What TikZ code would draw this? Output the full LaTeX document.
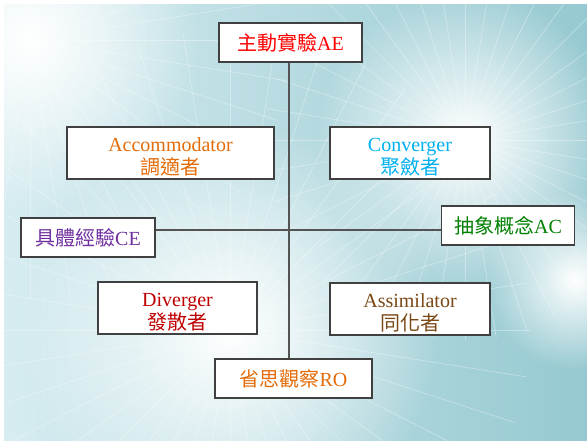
\documentclass[tikz,border=0pt]{standalone}
\usepackage{fontspec}
\setmainfont{Liberation Serif}
\newfontfamily\cjk{Noto Sans CJK TC}
\usepackage{xcolor}
\usepackage{tikz}
\usetikzlibrary{fadings}

\definecolor{bglight}{RGB}{214,236,240}
\definecolor{bgteal}{RGB}{150,201,209}
\definecolor{aered}{RGB}{255,0,0}
\definecolor{acorange}{RGB}{228,108,10}
\definecolor{cvblue}{RGB}{0,176,240}
\definecolor{cepurple}{RGB}{112,48,160}
\definecolor{acgreen}{RGB}{0,128,0}
\definecolor{dvred}{RGB}{192,0,0}
\definecolor{asbrown}{RGB}{122,72,20}
\definecolor{boxline}{RGB}{64,64,64}

% pushes a two-line label a little down in its box
\newcommand{\padtop}{\rule{0pt}{21pt}}

\tikzfading[name=glow, inner color=transparent!0, outer color=transparent!100]

\tikzset{
  stylebox/.style={draw=boxline, line width=1.2pt, fill=white, inner sep=0pt,
    align=center, font=\fontsize{20}{23}\selectfont},
  axis/.style={draw=boxline!90, line width=1.3pt}
}

\begin{document}
\begin{tikzpicture}[x=1pt,y=-1pt]
\useasboundingbox (0,0) rectangle (587,442);

% background
\fill[white] (0,0) rectangle (587,442);
\begin{scope}
  \clip (4,4) rectangle (587,440);
  \shade[left color=bglight, right color=bgteal] (4,4) rectangle (587,440);
  \fill[white, path fading=glow] (30,40) circle (170);
  \fill[white, path fading=glow] (230,330) circle (210);
  \fill[white, path fading=glow] (465,140) circle (150);
  \fill[white, path fading=glow] (575,280) circle (90);
  \foreach \cx/\cy/\r in {30/40/260, 230/330/300, 465/140/200}
    \foreach \a in {0,9,...,351}
      \draw[white, opacity=0.35, line width=0.7pt] (\cx,\cy) -- ++(\a:\r);
\end{scope}

    \node[stylebox, minimum width=143pt, minimum height=39pt, text=aered] (AE) at (290.5,42.5) {{\cjk 主動實驗}AE};
    \node[stylebox, minimum width=157pt, minimum height=39pt, text=acorange] (RO) at (293.5,378.5) {{\cjk 省思觀察}RO};
    \node[stylebox, minimum width=134pt, minimum height=39pt, text=cepurple] (CE) at (88,237.5) {{\cjk 具體經驗}CE};
    \node[stylebox, minimum width=133pt, minimum height=39pt, text=acgreen] (AC) at (508,225.5) {{\cjk 抽象概念}AC};

    \node[stylebox, minimum width=207pt, minimum height=52pt, text=acorange] (acc) at (170.5,153) {\padtop Accommodator\\{\cjk 調適者}};
    \node[stylebox, minimum width=160pt, minimum height=52pt, text=cvblue] (con) at (410,153) {\padtop Converger\\{\cjk 聚斂者}};
    \node[stylebox, minimum width=159pt, minimum height=52pt, text=dvred] (div) at (177.5,308) {\padtop Diverger\\{\cjk 發散者}};
    \node[stylebox, minimum width=160pt, minimum height=52pt, text=asbrown] (asm) at (410,309) {\padtop Assimilator\\{\cjk 同化者}};

    \coordinate (hub) at (289,230);

    % draw the axes
    \draw[axis] (hub |- AE.south) -- (hub |- RO.north);
    \draw[axis] (CE.east |- hub) -- (AC.west |- hub);

\end{tikzpicture}
\end{document}
